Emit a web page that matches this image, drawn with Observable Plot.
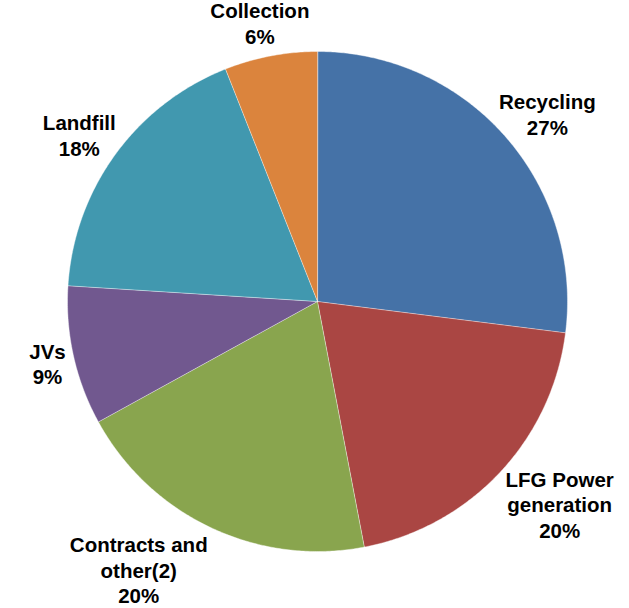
<!DOCTYPE html>
<html>
<head>
<meta charset="utf-8">
<script src="https://cdn.jsdelivr.net/npm/d3@7"></script>
<script src="https://cdn.jsdelivr.net/npm/@observablehq/plot@0.6"></script>
<style>
  html, body { margin: 0; padding: 0; background: #fff; }
  #chart { width: 629px; height: 608px; }
</style>
</head>
<body>
<div id="chart"></div>
<script>
// ---- data ----
const categories = ["Recycling", "LFG Power generation", "Contracts and other(2)", "JVs", "Landfill", "Collection"];
const labelNames = ["Recycling", "LFG Power\ngeneration", "Contracts and\nother(2)", "JVs", "Landfill", "Collection"];
const shares = [27, 20, 20, 9, 18, 6];
const colors = ["#4572A7", "#AA4643", "#89A54E", "#71588F", "#4198AF", "#DB843D"];

// ---- layout ----
const W = 629, H = 608;
const cx = 317, cy = 301, R = 250;       // pixel centre / radius
const FS = 20.5;
const FAMILY = "'Liberation Sans', Arial, sans-serif";
const LINE_H = 25.5;

const total = d3.sum(shares);
const pie = d3.pie().sort(null).value(d => d.value)(categories.map((c, i) => ({name: c, value: shares[i], i})));

// polygon points for each slice, in unit-circle coordinates (y up)
const pts = [];
for (const s of pie) {
  pts.push({name: s.data.name, x: 0, y: 0});
  const n = Math.max(2, Math.ceil((s.endAngle - s.startAngle) / (Math.PI / 360)));
  for (let j = 0; j <= n; j++) {
    const a = s.startAngle + (s.endAngle - s.startAngle) * j / n;
    pts.push({name: s.data.name, x: Math.sin(a), y: Math.cos(a)});
  }
}

// label positions ("best fit" outside): anchor just outside the rim at the
// slice mid-angle, label box pushed outward; lower-half labels spread wider
const ctx = document.createElement("canvas").getContext("2d");
ctx.font = `bold ${FS}px ${FAMILY}`;
const clamp = v => Math.max(-1, Math.min(1, v));
const labels = pie.map(s => {
  const i = s.data.i;
  const text = labelNames[i] + "\n" + Math.round(100 * shares[i] / total) + "%";
  const lines = text.split("\n");
  const w = d3.max(lines, l => ctx.measureText(l).width);
  const h = lines.length * LINE_H;
  const a = (s.startAngle + s.endAngle) / 2;
  const sn = Math.sin(a), cs = Math.cos(a);
  const gap = 8;
  const kx = cs < 0 ? 2.5 : 1;
  const px = (R + gap) * sn + (w / 2) * clamp(kx * sn);
  const py = (R + gap) * cs + (h / 2) * clamp(cs);
  return {text, x: px / R, y: py / R};
});

const chart = Plot.plot({
  width: W,
  height: H,
  margin: 0,
  x: {domain: [-cx / R, (W - cx) / R], axis: null},
  y: {domain: [-(H - cy) / R, cy / R], axis: null},
  color: {domain: categories, range: colors},
  marks: [
    Plot.line(pts, {
      x: "x", y: "y", z: "name", fill: "name",
      stroke: "#ffffff", strokeWidth: 0.6, strokeOpacity: 0.7,
      curve: "linear-closed"
    }),
    Plot.text(labels, {
      x: "x", y: "y", text: "text",
      fontSize: FS, fontWeight: "bold",
      fontFamily: FAMILY,
      lineHeight: LINE_H / FS, lineAnchor: "middle", textAnchor: "middle",
      fill: "#000"
    })
  ]
});
document.getElementById("chart").appendChild(chart);
</script>
</body>
</html>
